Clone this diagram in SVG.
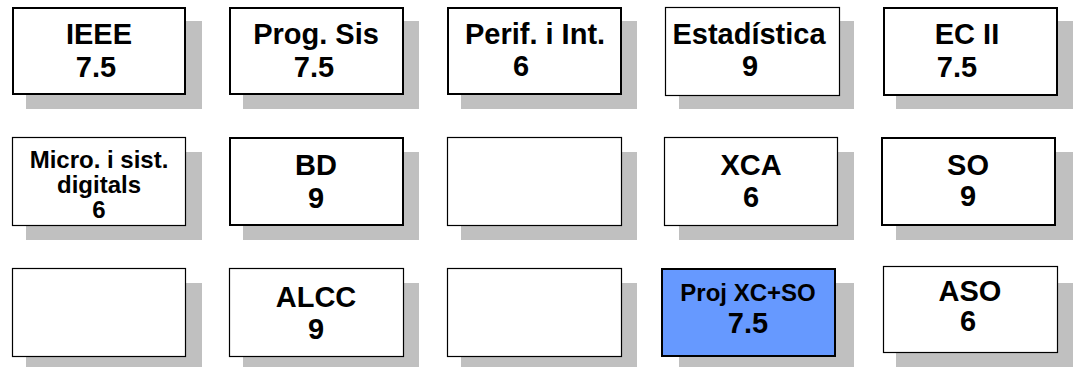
<svg xmlns="http://www.w3.org/2000/svg" width="1074" height="367" viewBox="0 0 1074 367">
<style>
.sh{fill:#C0C0C0;stroke:none}
.bx{fill:#FFFFFF;stroke:#000000;stroke-width:2}
.thin{stroke-width:1.2}
.blue{fill:#6699FF}
text{font-family:"Liberation Sans",Arial,sans-serif;font-weight:bold;font-size:29px;fill:#000000;text-anchor:middle}
.s{font-size:24px}
</style>
<rect width="1074" height="367" fill="#FFFFFF"/>
<g id="connectors"/>
<g id="n-ieee"><rect class="sh" x="26" y="21" width="176" height="88"/><rect class="bx" x="13" y="8" width="172" height="86"/><text x="99" y="44">IEEE</text><text x="96" y="77">7.5</text></g>
<g id="n-progsis"><rect class="sh" x="243" y="21" width="176" height="88"/><rect class="bx" x="230" y="8" width="173" height="86"/><text x="316" y="44">Prog. Sis</text><text x="314" y="77">7.5</text></g>
<g id="n-perif"><rect class="sh" x="461" y="21" width="176" height="88"/><rect class="bx" x="448" y="8" width="173" height="86"/><text x="535" y="44">Perif. i Int.</text><text x="521" y="76">6</text></g>
<g id="n-estad"><rect class="sh" x="679" y="21" width="175" height="88"/><rect class="bx thin" x="665.5" y="7.5" width="174" height="88"/><text x="749" y="44">Estadística</text><text x="750" y="76">9</text></g>
<g id="n-ecii"><rect class="sh" x="896" y="21" width="177" height="88"/><rect class="bx" x="884" y="8" width="173" height="87"/><text x="967" y="44">EC II</text><text x="957" y="77">7.5</text></g>

<g id="n-micro"><rect class="sh" x="26" y="152" width="176" height="88"/><rect class="bx thin" x="12.5" y="137.5" width="173" height="88"/><text class="s" x="99" y="168">Micro. i sist.</text><text class="s" x="99" y="193">digitals</text><text class="s" x="99" y="218">6</text></g>
<g id="n-bd"><rect class="sh" x="243" y="152" width="176" height="88"/><rect class="bx" x="230" y="138" width="173" height="87"/><text x="316" y="175">BD</text><text x="316" y="208">9</text></g>
<g id="n-empty1"><rect class="sh" x="461" y="152" width="176" height="88"/><rect class="bx thin" x="447.5" y="137.5" width="174" height="88"/></g>
<g id="n-xca"><rect class="sh" x="679" y="152" width="175" height="88"/><rect class="bx thin" x="664.5" y="137.5" width="173" height="88"/><text x="751" y="175">XCA</text><text x="751" y="207">6</text></g>
<g id="n-so"><rect class="sh" x="896" y="152" width="177" height="88"/><rect class="bx" x="882" y="138" width="173" height="87"/><text x="968" y="175">SO</text><text x="968" y="206">9</text></g>

<g id="n-empty2"><rect class="sh" x="26" y="283" width="176" height="84"/><rect class="bx thin" x="12.5" y="268.5" width="173" height="88"/></g>
<g id="n-alcc"><rect class="sh" x="243" y="283" width="176" height="84"/><rect class="bx thin" x="229.5" y="268.5" width="174" height="88"/><text x="316" y="307">ALCC</text><text x="316" y="339">9</text></g>
<g id="n-empty3"><rect class="sh" x="461" y="283" width="176" height="84"/><rect class="bx thin" x="447.5" y="268.5" width="174" height="88"/></g>
<g id="n-proj"><rect class="sh" x="679" y="283" width="175" height="84"/><rect class="bx blue" x="662" y="269" width="173" height="87"/><text class="s" x="748" y="301">Proj XC+SO</text><text x="748" y="333" font-size="27">7.5</text></g>
<g id="n-aso"><rect class="sh" x="896" y="283" width="177" height="84"/><rect class="bx thin" x="883.5" y="266.5" width="174" height="86"/><text x="970" y="301">ASO</text><text x="968" y="331">6</text></g>
</svg>
